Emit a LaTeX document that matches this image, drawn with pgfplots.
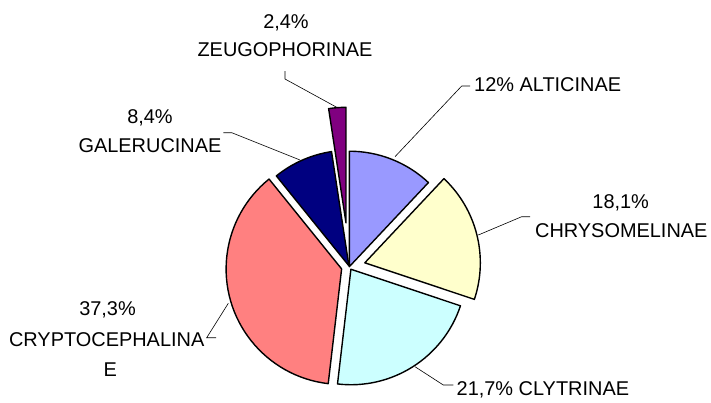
\documentclass[border=0pt]{standalone}
\usepackage{fontspec}
\setmainfont{Liberation Sans}
\usepackage{pgfplots}
\usepackage{pgfplotstable}
\pgfplotsset{compat=1.18}

\definecolor{alt}{HTML}{9999FF}
\definecolor{chr}{HTML}{FFFFCC}
\definecolor{cly}{HTML}{CCFFFF}
\definecolor{cry}{HTML}{FF8080}
\definecolor{gal}{HTML}{000080}
\definecolor{zeu}{HTML}{800080}

% share in %, how far the slice is pulled out (px), fill colour
\pgfplotstableread[col sep=comma]{
name,value,explode,col
ALTICINAE,12.0,0,alt
CHRYSOMELINAE,18.1,16,chr
CLYTRINAE,21.7,3,cly
CRYPTOCEPHALINAE,37.3,8,cry
GALERUCINAE,8.4,1,gal
ZEUGOPHORINAE,2.4,44,zeu
}\piedata

\newcommand{\cx}{349.3}
\newcommand{\cy}{266.7}
\newcommand{\rad}{115.5}

\begin{document}
\begin{tikzpicture}[lab/.style={font=\fontsize{20}{23}\selectfont, inner sep=0pt}]
\begin{axis}[
  hide axis, scale only axis,
  width=711bp, height=403bp,
  xmin=0, xmax=711, ymin=0, ymax=403,
  y dir=reverse, clip=false,
]
\path (rel axis cs:0,0) rectangle (rel axis cs:1,1);

\pgfmathsetmacro\acc{90}
\pgfplotsforeachungrouped \i in {0,...,5}{%
  \pgfplotstablegetelem{\i}{value}\of\piedata \let\pv\pgfplotsretval
  \pgfplotstablegetelem{\i}{explode}\of\piedata \let\pex\pgfplotsretval
  \pgfplotstablegetelem{\i}{col}\of\piedata \let\pcol\pgfplotsretval
  \pgfmathsetmacro\sa{\acc}
  \pgfmathsetmacro\ea{\acc-\pv*360/99.9}
  \pgfmathsetmacro\ma{(\sa+\ea)/2}
  \pgfmathsetmacro\px{\cx+\pex*cos(\ma)}
  \pgfmathsetmacro\py{\cy-\pex*sin(\ma)}
  \pgfmathsetmacro\qx{\px+\rad*cos(\sa)}
  \pgfmathsetmacro\qy{\py-\rad*sin(\sa)}
  \edef\slice{\noexpand\filldraw[fill=\pcol, draw=black, line width=1.4bp,
    line join=round] (axis cs:\px,\py) -- (axis cs:\qx,\qy)
    arc[start angle=\sa, end angle=\ea, radius=\rad bp] -- cycle;}
  \slice
  \let\acc\ea
}

% leader lines
\draw[line width=0.6bp] (axis cs:285,71) -- (axis cs:285,79) -- (axis cs:336.7,107.3);
\draw[line width=0.6bp] (axis cs:470,86) -- (axis cs:461.7,86) -- (axis cs:395,156.7);
\draw[line width=0.6bp] (axis cs:530,216.7) -- (axis cs:521.7,216.7) -- (axis cs:478.3,235);
\draw[line width=0.6bp] (axis cs:453.3,385) -- (axis cs:443.3,385) -- (axis cs:415,366.7);
\draw[line width=0.6bp] (axis cs:216,337.7) -- (axis cs:206.7,337.7) -- (axis cs:228.3,303.3);
\draw[line width=0.6bp] (axis cs:223.3,132.7) -- (axis cs:231.7,132.7) -- (axis cs:300,160);

% labels
\node[lab, anchor=base] at (axis cs:286,28.3) {2,4\%};
\node[lab, anchor=base] at (axis cs:285,56.7) {ZEUGOPHORINAE};
\node[lab, anchor=base west] at (axis cs:474,91.7) {12\% ALTICINAE};
\node[lab, anchor=base] at (axis cs:620.7,208.3) {18,1\%};
\node[lab, anchor=base] at (axis cs:621.3,237) {CHRYSOMELINAE};
\node[lab, anchor=base west] at (axis cs:456.5,395) {21,7\% CLYTRINAE};
\node[lab, anchor=base] at (axis cs:150,123.3) {8,4\%};
\node[lab, anchor=base] at (axis cs:150,152.7) {GALERUCINAE};
\node[lab, anchor=base] at (axis cs:107.5,315) {37,3\%};
\node[lab, anchor=base] at (axis cs:106.7,346.7) {CRYPTOCEPHALINA};
\node[lab, anchor=base] at (axis cs:110.3,376) {E};
\end{axis}
\end{tikzpicture}
\end{document}
